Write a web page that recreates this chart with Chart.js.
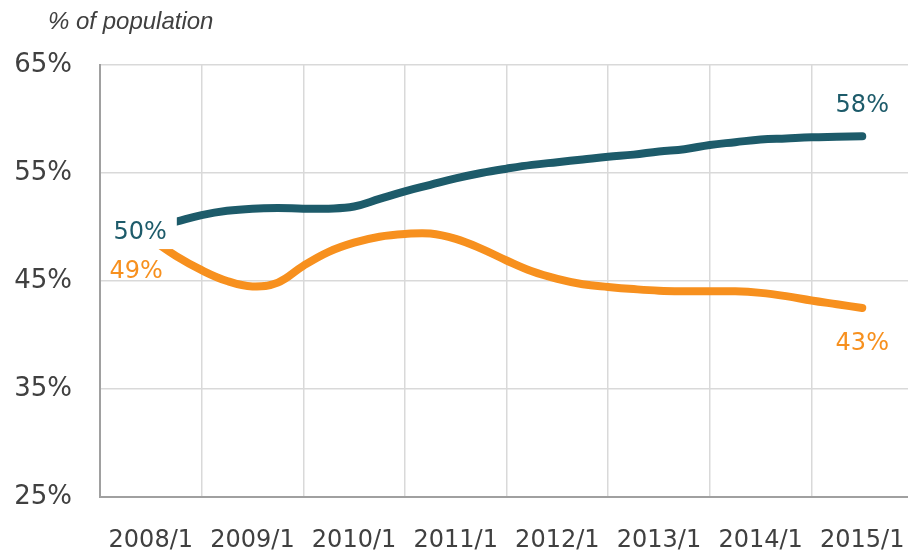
<!DOCTYPE html>
<html>
<head>
<meta charset="utf-8">
<script src="https://cdn.jsdelivr.net/npm/chart.js@4/dist/chart.umd.min.js"></script>
<style>
html, body { margin: 0; padding: 0; background: #fff; }
#wrap { width: 908px; height: 550px; position: relative; }
</style>
</head>
<body>
<div id="wrap"><canvas id="lineChart"></canvas></div>
<script>
// year labels on the x axis, data is quarterly from 2008/1 to 2015/1
var yearLabels = ['2008/1', '2009/1', '2010/1', '2011/1', '2012/1', '2013/1', '2014/1', '2015/1']
var yTickValues = [25, 35, 45, 55, 65]
var seriesTeal = [49.9, 50.5, 51.1, 51.5, 51.7, 51.75, 51.7, 51.7, 51.9, 52.6, 53.3, 53.9, 54.5, 55.0, 55.4,
    55.75, 56.0, 56.25, 56.5, 56.7, 57.0, 57.2, 57.6, 57.85, 58.1, 58.2, 58.3, 58.35, 58.4]
var seriesOrange = [48.9, 47.3, 46.0, 45.0, 44.5, 44.85, 46.4, 47.7, 48.55, 49.1, 49.35, 49.4, 48.9, 48.0, 46.9,
    45.9, 45.2, 44.7, 44.45, 44.25, 44.1, 44.05, 44.05, 44.05, 43.9, 43.6, 43.2, 42.85, 42.5]

var tealColor = '#1d5b6a'
var orangeColor = '#f7901e'
var textColor = '#404040'

var toPoints = (arr) => arr.map((v, i) => ({ x: i / 4, y: v }))

// end labels: which end of the line, pixel offset, alignment, white box or not
var endLabels = [
    { ds: 0, end: 'first', dx: 16, dy: 5, align: 'right', box: true },
    { ds: 1, end: 'first', dx: 12, dy: 33, align: 'right', box: false },
    { ds: 0, end: 'last', dx: 0, dy: -31, align: 'center', box: false },
    { ds: 1, end: 'last', dx: 0, dy: 36, align: 'center', box: false }
]

var labelPlugin = {
    id: 'labelPlugin',
    afterDatasetsDraw: (chart) => {
        var ctx = chart.ctx
        ctx.save()
        ctx.font = '24px "DejaVu Sans"'
        ctx.textBaseline = 'middle'
        endLabels.forEach((l) => {
            var ds = chart.data.datasets[l.ds]
            var meta = chart.getDatasetMeta(l.ds)
            var idx = l.end === 'first' ? 0 : ds.data.length - 1
            var pt = meta.data[idx]
            var txt = Math.round(ds.data[idx].y) + '%'
            var x = pt.x + l.dx
            var y = pt.y + l.dy
            var w = ctx.measureText(txt).width
            if (l.box) {
                var left = l.align === 'right' ? x - w : x - w / 2
                ctx.fillStyle = '#ffffff'
                ctx.fillRect(left - 10, y - 19, w + 20, 35)
            }
            ctx.textAlign = l.align
            ctx.fillStyle = ds.borderColor
            ctx.fillText(txt, x, y)
        })
        // axis caption
        ctx.font = 'italic 24px "Liberation Sans"'
        ctx.textAlign = 'left'
        ctx.textBaseline = 'alphabetic'
        ctx.fillStyle = textColor
        ctx.fillText('% of population', 48, 29)
        ctx.restore()
    }
}

var ctxL = document.getElementById('lineChart').getContext('2d')
var lineChart = new Chart(ctxL, {
    type: 'line',
    data: {
        datasets: [{
            label: 'A',
            data: toPoints(seriesTeal),
            borderColor: tealColor,
            borderWidth: 8,
            borderCapStyle: 'round',
            borderJoinStyle: 'round',
            tension: 0.4,
            pointRadius: 0,
            fill: false
        }, {
            label: 'B',
            data: toPoints(seriesOrange),
            borderColor: orangeColor,
            borderWidth: 8,
            borderCapStyle: 'round',
            borderJoinStyle: 'round',
            tension: 0.4,
            pointRadius: 0,
            fill: false
        }]
    },
    options: {
        responsive: true,
        maintainAspectRatio: false,
        animation: false,
        layout: { padding: { top: 65, right: 0, left: 0, bottom: 0 } },
        plugins: {
            legend: { display: false },
            tooltip: { enabled: false }
        },
        scales: {
            x: {
                type: 'linear',
                min: -0.5,
                max: 7.45,
                afterBuildTicks: (scale) => {
                    scale.ticks = yearLabels.map((l, i) => ({ value: i - 0.5 }))
                },
                afterFit: (scale) => { scale.height = 53 },
                grid: { color: '#d9d9d9', lineWidth: 1.5, drawTicks: false },
                border: { display: true, color: '#a0a0a0', width: 2 },
                ticks: {
                    autoSkip: false,
                    maxRotation: 0,
                    labelOffset: 50.8,
                    padding: 29,
                    color: textColor,
                    font: { family: '"DejaVu Sans"', size: 24 },
                    callback: (v, i) => yearLabels[i]
                }
            },
            y: {
                min: 25,
                max: 65,
                afterBuildTicks: (scale) => {
                    scale.ticks = yTickValues.map((v) => ({ value: v }))
                },
                afterFit: (scale) => { scale.width = 100 },
                grid: { color: '#d9d9d9', lineWidth: 1.5, drawTicks: false },
                border: { display: true, color: '#a0a0a0', width: 2 },
                ticks: {
                    padding: 28,
                    color: textColor,
                    font: { family: '"DejaVu Sans"', size: 26 },
                    callback: (v) => v + '%'
                }
            }
        }
    },
    plugins: [labelPlugin]
})
</script>
</body>
</html>
